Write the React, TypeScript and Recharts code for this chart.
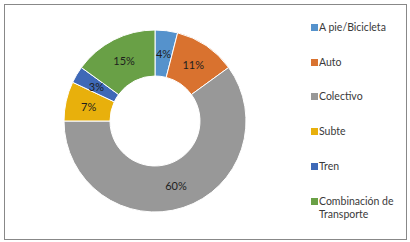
import { PieChart, Pie, Cell, Legend } from 'recharts';

const categories = ['A pie/Bicicleta', 'Auto', 'Colectivo', 'Subte', 'Tren', 'Combinación de Transporte'];
const shares = [4, 11, 60, 7, 3, 15];
const colors = ['#5592CC', '#D9722F', '#989898', '#E8B00C', '#3F69B7', '#69A046'];

const data = categories.map((name, i) => ({ name, value: shares[i] }));

const RAD = Math.PI / 180;

// percentage label centred in the ring
const renderLabel = (p: any) => {
  const r = (p.innerRadius + p.outerRadius) / 2;
  const x = p.cx + r * Math.cos(-p.midAngle * RAD);
  const y = p.cy + r * Math.sin(-p.midAngle * RAD);
  return (
    <text x={x} y={y} textAnchor="middle" dominantBaseline="central" fill="#1e1e1e" fontSize={11}>
      {`${p.value}%`}
    </text>
  );
};

const LegendList = () => (
  <div style={{ position: 'relative', width: 100, height: 230 }}>
    {data.map((d, i) => (
      <div
        key={d.name}
        style={{ position: 'absolute', left: 0, top: 16 + i * 34.7, display: 'flex', alignItems: 'flex-start' }}
      >
        <span style={{ width: 7, height: 7, background: colors[i], marginTop: 3, marginRight: 1, flex: 'none' }} />
        <span style={{ fontSize: 10.5, lineHeight: '13px', color: '#3a3a3a', width: 88 }}>{d.name}</span>
      </div>
    ))}
  </div>
);

export default function App() {
  return (
    <div
      style={{
        position: 'absolute', left: 4, top: 4, width: 401, height: 234,
        border: '1px solid #888', background: '#fff', fontFamily: 'Lato, sans-serif',
      }}
    >
      <PieChart width={401} height={234} margin={{ top: 0, right: 0, bottom: 0, left: 0 }}>
        <Pie
          data={data}
          dataKey="value"
          cx={150}
          cy={116}
          innerRadius={45}
          outerRadius={91}
          startAngle={90}
          endAngle={-270}
          stroke="#fff"
          strokeWidth={1}
          label={renderLabel}
          labelLine={false}
          isAnimationActive={false}
        >
          {data.map((d, i) => <Cell key={d.name} fill={colors[i]} />)}
        </Pie>
        <Legend content={<LegendList />} wrapperStyle={{ left: 306, top: 0, width: 100 }} />
      </PieChart>
    </div>
  );
}
